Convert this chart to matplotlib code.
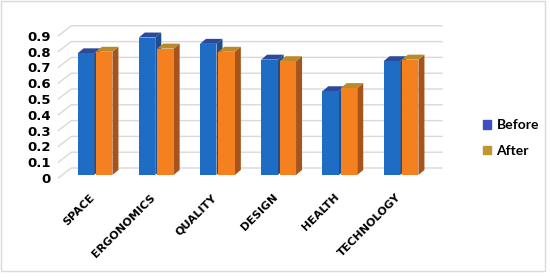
import matplotlib.pyplot as plt
from matplotlib.patches import Polygon, Patch, Rectangle
from matplotlib.transforms import ScaledTranslation

categories = ['SPACE', 'ERGONOMICS', 'QUALITY', 'DESIGN', 'HEALTH', 'TECHNOLOGY']
before = [0.77, 0.87, 0.83, 0.73, 0.53, 0.72]
after = [0.78, 0.80, 0.78, 0.72, 0.55, 0.73]
yticks = [0, 0.1, 0.2, 0.3, 0.4, 0.5, 0.6, 0.7, 0.8, 0.9]

plt.rcParams['font.family'] = ['Lato', 'DejaVu Sans']

W, H = 550, 277
fig = plt.figure(figsize=(W / 100, H / 100), dpi=100)

# pixel layout: x = 95 + 61.2*i, front zero at y=178 (from top), 158 px per unit
ppx, ppy = 61.2, 158.0
x0, x1 = -0.62, 5.75
y0, y1 = -0.05, 1.0
left = 95 + ppx * x0
bottom = H - (178 + ppy * (-y0))
ax = fig.add_axes([left / W, bottom / H, ppx * (x1 - x0) / W, ppy * (y1 - y0) / H])
ax.set_xlim(x0, x1)
ax.set_ylim(y0, y1)
for s in ax.spines.values():
    s.set_visible(False)

# back wall gridlines with slanted left side wall
wdx, wdy = 13 / ppx, 10 / ppy
for v in yticks:
    ax.plot([-0.6, -0.6 + wdx, 5.67], [v, v + wdy, v + wdy], color='#D9D9D9', lw=1, zorder=0)

# 3d-looking bars
bw = 0.27
ddx, ddy = 6 / ppx, 5 / ppy
base = 3 / ppy
series = [(before, -0.15, '#1F6CC4', '#2C4A9C', '#1B4F8F'),
          (after, 0.15, '#F4801F', '#B88A2C', '#A6541C')]
for i in range(len(categories)):
    for vals, off, front, top, side in series:
        v = vals[i]
        xa = i + off - bw / 2
        xb = i + off + bw / 2
        ax.add_patch(Rectangle((xa, base), bw, v, facecolor=front, edgecolor='none', zorder=3))
        ax.add_patch(Polygon([(xb, base), (xb + ddx, base + ddy), (xb + ddx, base + v + ddy), (xb, base + v)],
                             facecolor=side, edgecolor='none', zorder=2))
        ax.add_patch(Polygon([(xa, base + v), (xa + ddx, base + v + ddy), (xb + ddx, base + v + ddy), (xb, base + v)],
                             facecolor=top, edgecolor='none', zorder=2))

ax.set_yticks(yticks)
ax.set_yticklabels(['0' if t == 0 else f'{t:.1f}' for t in yticks], fontsize=9.5, fontweight='bold',
                   family='DejaVu Sans')
ax.tick_params(axis='y', length=0, pad=4.5)
ax.set_xticks(range(len(categories)))
ax.set_xticklabels(categories, rotation=45, ha='right', va='center', rotation_mode='anchor',
                   fontsize=8, fontweight='bold', family='DejaVu Sans')
ax.tick_params(axis='x', length=0, pad=7)
shift = ScaledTranslation(-2 / 100, 0, fig.dpi_scale_trans)
for lab in ax.get_xticklabels():
    lab.set_transform(lab.get_transform() + shift)

fig.legend(handles=[Patch(color='#3F4FBF', label='Before'), Patch(color='#BF9630', label='After')],
           loc='center left', bbox_to_anchor=(470 / W, 1 - 138 / H), frameon=False,
           prop={'weight': 'bold', 'size': 10}, handlelength=0.6, handleheight=0.6,
           handletextpad=0.4, labelspacing=1.0)

# chart border
fig.add_artist(Rectangle((1 / W, 6 / H), 544 / W, 270 / H, transform=fig.transFigure,
                         fill=False, edgecolor='#D9D9D9', lw=1))

fig.savefig('out.png', dpi=100)
